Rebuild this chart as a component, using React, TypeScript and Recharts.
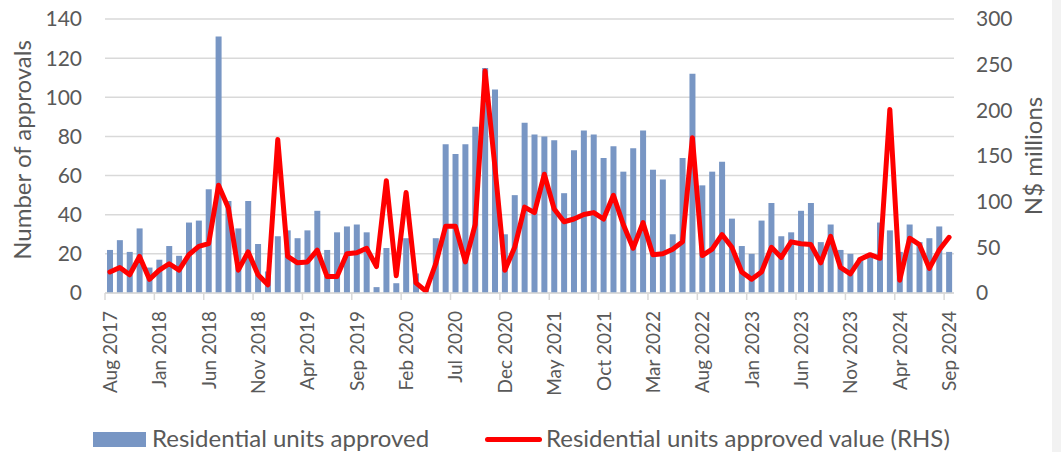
import { ComposedChart, Bar, Line, XAxis, YAxis, CartesianGrid, Legend } from 'recharts';

const MONTH_NAMES = ['Jan', 'Feb', 'Mar', 'Apr', 'May', 'Jun', 'Jul', 'Aug', 'Sep', 'Oct', 'Nov', 'Dec'];

// Residential units approved (LHS), Aug 2017 - Sep 2024
const unitsApproved = [
  22, 27, 21, 33, 13, 17, 24, 19, 36, 37, 53, 131, 47, 33, 47, 25, 11, 29, 32, 28,
  32, 42, 22, 31, 34, 35, 31, 3, 23, 5, 28, 10, 2, 28, 76, 71, 76, 85, 115, 104,
  30, 50, 87, 81, 80, 78, 51, 73, 83, 81, 69, 75, 62, 74, 83, 63, 58, 30, 69, 112,
  55, 62, 67, 38, 24, 20, 37, 46, 29, 31, 42, 46, 26, 35, 22, 20, 18, 19, 36, 32,
  21, 35, 26, 28, 34, 21,
];

// Residential units approved value, N$ millions (RHS)
const approvedValue = [
  23, 28, 20, 40, 15, 25, 32, 25, 42, 51, 54, 118, 93, 25, 45, 20, 9, 168, 40, 33,
  34, 47, 18, 18, 43, 44, 49, 29, 123, 19, 110, 11, 2, 32, 73, 73, 34, 75, 243, 138,
  25, 50, 94, 88, 130, 92, 78, 81, 86, 88, 81, 107, 75, 49, 77, 42, 43, 48, 56, 170,
  41, 48, 64, 50, 23, 15, 23, 50, 39, 56, 54, 53, 33, 62, 28, 21, 37, 42, 38, 201,
  14, 60, 53, 27, 47, 61,
];

const months = unitsApproved.map((_, i) => {
  const m = 7 + i;
  return `${MONTH_NAMES[m % 12]} ${2017 + Math.floor(m / 12)}`;
});

const leftTicks = [0, 20, 40, 60, 80, 100, 120, 140];
const rightTicks = [0, 50, 100, 150, 200, 250, 300];

const data = months.map((month, i) => ({
  month,
  units: unitsApproved[i],
  value: approvedValue[i],
}));

const FONT = 'Lato, "Open Sans", sans-serif';
const TEXT = '#595959';
const BAR = '#7896C4';
const PLOT_LEFT = 105;
const PLOT_W = 849;
const BAND = PLOT_W / months.length;

function MonthTick({ x, y, payload }: any) {
  const edge = x - BAND / 2;
  return (
    <g>
      <line x1={edge} x2={edge} y1={y - 8} y2={y - 1} stroke="#D9D9D9" strokeWidth={1.5} />
      <text
        x={x}
        y={y + 10}
        dy={7}
        transform={`rotate(-90, ${x}, ${y + 10})`}
        textAnchor="end"
        fill={TEXT}
        fontSize={19}
        fontFamily={FONT}
      >
        {payload.value}
      </text>
    </g>
  );
}

function LegendBox() {
  return (
    <div style={{ position: 'relative', height: 24, fontFamily: FONT, fontSize: 24, color: TEXT }}>
      <span style={{ position: 'absolute', left: 93, top: 4, width: 53, height: 15, background: BAR }} />
      <span style={{ position: 'absolute', left: 152, top: -5, whiteSpace: 'nowrap' }}>Residential units approved</span>
      <span style={{ position: 'absolute', left: 485, top: 9, width: 57, height: 5, borderRadius: 3, background: '#FF0000' }} />
      <span style={{ position: 'absolute', left: 546, top: -5, whiteSpace: 'nowrap' }}>Residential units approved value (RHS)</span>
    </div>
  );
}

export default function App() {
  return (
    <div style={{ position: 'fixed', left: 0, top: 0, width: 1061, height: 452, background: '#fff', overflow: 'hidden' }}>
      <div style={{ position: 'absolute', left: 1052, top: 0, width: 9, height: 452, background: '#F2F2F2' }} />
      <ComposedChart
        width={1061}
        height={452}
        data={data}
        margin={{ top: 19, right: 7, bottom: 59, left: PLOT_LEFT - 90 }}
        barSize={6}
      >
        <CartesianGrid yAxisId="left" vertical={false} stroke="#D9D9D9" strokeWidth={1.5} />
        <XAxis
          dataKey="month"
          interval={4}
          height={100}
          tickLine={false}
          axisLine={{ stroke: '#D9D9D9', strokeWidth: 1.5 }}
          tick={<MonthTick />}
        />
        <YAxis
          yAxisId="left"
          width={90}
          domain={[0, 140]}
          ticks={leftTicks}
          axisLine={false}
          tickLine={false}
          tickSize={6}
          tickMargin={17}
          tick={{ fill: TEXT, fontSize: 21, fontFamily: FONT }}
          label={() => (
            <text
              x={31}
              y={150}
              transform="rotate(-90, 31, 150)"
              textAnchor="middle"
              fill={TEXT}
              fontSize={24}
              fontFamily={FONT}
            >
              Number of approvals
            </text>
          )}
        />
        <YAxis
          yAxisId="right"
          orientation="right"
          width={100}
          domain={[0, 300]}
          ticks={rightTicks}
          axisLine={false}
          tickLine={false}
          tickSize={6}
          tickMargin={16}
          tick={{ fill: TEXT, fontSize: 21, fontFamily: FONT, textAnchor: 'start' }}
          label={() => (
            <text
              x={1042}
              y={156}
              transform="rotate(-90, 1042, 156)"
              textAnchor="middle"
              fill={TEXT}
              fontSize={24}
              fontFamily={FONT}
            >
              N$ millions
            </text>
          )}
        />
        <Legend
          layout="horizontal"
          verticalAlign="middle"
          align="center"
          wrapperStyle={{ top: 428, left: 0, width: 1061 }}
          content={<LegendBox />}
        />
        <Bar yAxisId="left" dataKey="units" fill={BAR} isAnimationActive={false} />
        <Line
          yAxisId="right"
          dataKey="value"
          type="linear"
          stroke="#FF0000"
          strokeWidth={5}
          strokeLinejoin="round"
          strokeLinecap="round"
          dot={false}
          isAnimationActive={false}
        />
      </ComposedChart>
    </div>
  );
}
